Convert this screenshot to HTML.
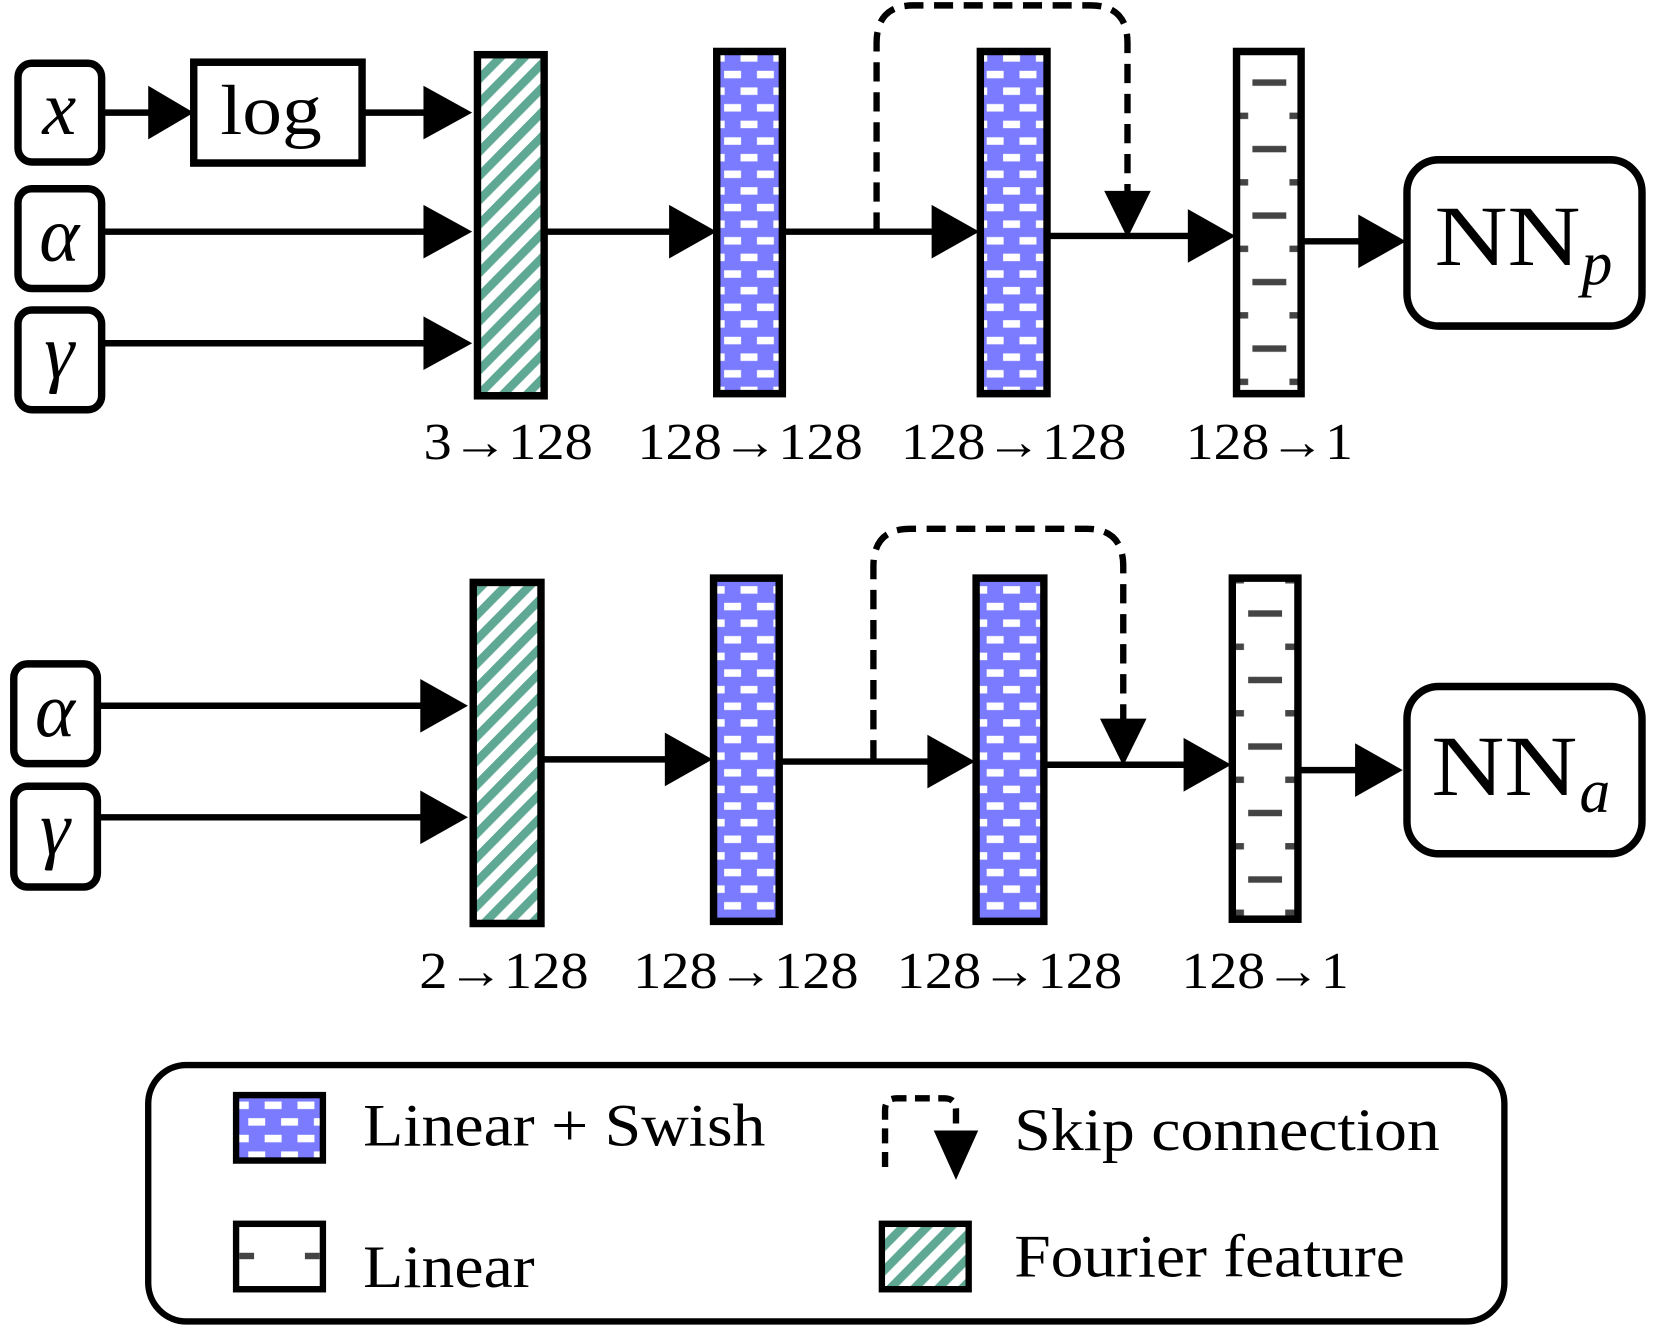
<!DOCTYPE html>
<html><head><meta charset="utf-8"><style>html,body{margin:0;padding:0;background:#fff}svg{display:block}</style></head>
<body>
<svg width="1660" height="1330" viewBox="0 0 1568 1240" preserveAspectRatio="none" xmlns="http://www.w3.org/2000/svg">
<defs>
<pattern id="blue" patternUnits="userSpaceOnUse" width="31" height="31">
<rect width="31" height="31" fill="#7b7bff"/>
<rect x="2" y="4" width="16" height="7" fill="#fff"/>
<rect x="17.5" y="19.5" width="16" height="7" fill="#fff"/>
<rect x="-13.5" y="19.5" width="16" height="7" fill="#fff"/>
</pattern>
<pattern id="green" patternUnits="userSpaceOnUse" width="16" height="16" patternTransform="rotate(-45)">
<rect width="16" height="16" fill="#fff"/>
<rect width="16" height="8" fill="#5fa994"/>
</pattern>
<pattern id="lin" patternUnits="userSpaceOnUse" width="63" height="62" x="1167" y="50">
<rect width="63" height="62" fill="#fff"/>
<rect x="16" y="24" width="32" height="6" fill="#444"/>
<rect x="0" y="55" width="12" height="6" fill="#444"/>
<rect x="51" y="55" width="12" height="6" fill="#444"/>
</pattern>
<pattern id="lin2" patternUnits="userSpaceOnUse" width="63" height="62" x="1163" y="545">
<rect width="63" height="62" fill="#fff"/>
<rect x="16" y="24" width="32" height="6" fill="#444"/>
<rect x="0" y="55" width="12" height="6" fill="#444"/>
<rect x="51" y="55" width="12" height="6" fill="#444"/>
</pattern>
</defs>
<g font-family="'Liberation Serif', serif" fill="#000">

<!-- TOP -->
<g stroke="#000" stroke-width="7" fill="#fff">
<rect x="17" y="59" width="79" height="92" rx="13"/>
<rect x="17" y="176" width="79" height="93" rx="13"/>
<rect x="17" y="289" width="79" height="93" rx="13"/>
<rect x="183" y="58" width="159" height="94"/>
</g>
<text x="56" y="125" font-size="72" font-style="italic" text-anchor="middle">x</text>
<text x="56" y="243" font-size="72" font-style="italic" text-anchor="middle">α</text>
<text x="56" y="352" font-size="72" font-style="italic" text-anchor="middle">γ</text>
<text x="208" y="125" font-size="66" textLength="96" lengthAdjust="spacingAndGlyphs">log</text>

<g stroke="#000" stroke-width="6">
<line x1="96" y1="105" x2="150" y2="105"/>
<line x1="342" y1="105" x2="410" y2="105"/>
<line x1="96" y1="216" x2="410" y2="216"/>
<line x1="96" y1="320" x2="410" y2="320"/>
<line x1="515" y1="216" x2="640" y2="216"/>
<line x1="740" y1="216" x2="890" y2="216"/>
<line x1="990" y1="220" x2="1130" y2="220"/>
<line x1="1230" y1="225" x2="1290" y2="225"/>
</g>
<g>
<polygon points="140,80 183,105 140,130"/>
<polygon points="400,80 446,105 400,130"/>
<polygon points="400,191 446,216 400,241"/>
<polygon points="400,295 446,320 400,345"/>
<polygon points="632,191 677,216 632,241"/>
<polygon points="880,191 925,216 880,241"/>
<polygon points="1122,195 1167,220 1122,245"/>
<polygon points="1283,200 1328,225 1283,250"/>
</g>
<path d="M828,216 V40 Q828,5 863,5 H1030 Q1065,5 1065,40 V185" fill="none" stroke="#000" stroke-width="6" stroke-dasharray="18,10"/>
<polygon points="1043,178 1087,178 1065,222"/>

<rect x="451" y="51" width="63" height="318" fill="url(#green)" stroke="#000" stroke-width="7"/>
<rect x="677" y="48" width="62" height="319" fill="url(#blue)" stroke="#000" stroke-width="7"/>
<rect x="926" y="48" width="63" height="319" fill="url(#blue)" stroke="#000" stroke-width="7"/>
<rect x="1168" y="48" width="61" height="319" fill="url(#lin)" stroke="#000" stroke-width="7"/>

<rect x="1329" y="149" width="222" height="155" rx="30" fill="#fff" stroke="#000" stroke-width="7"/>
<text x="1355" y="247" font-size="80" textLength="138" lengthAdjust="spacingAndGlyphs">NN</text>
<text x="1494" y="265" font-size="58" font-style="italic">p</text>

<g font-size="48">
<text x="400" y="428" textLength="160" lengthAdjust="spacingAndGlyphs">3→128</text>
<text x="602" y="428" textLength="213" lengthAdjust="spacingAndGlyphs">128→128</text>
<text x="851" y="428" textLength="213" lengthAdjust="spacingAndGlyphs">128→128</text>
<text x="1120" y="428" textLength="158" lengthAdjust="spacingAndGlyphs">128→1</text>
</g>

<!-- BOTTOM -->
<g stroke="#000" stroke-width="7" fill="#fff">
<rect x="13" y="619" width="79" height="93" rx="13"/>
<rect x="13" y="733" width="79" height="94" rx="13"/>
</g>
<text x="52" y="686" font-size="72" font-style="italic" text-anchor="middle">α</text>
<text x="52" y="796" font-size="72" font-style="italic" text-anchor="middle">γ</text>
<g stroke="#000" stroke-width="6">
<line x1="92" y1="658" x2="405" y2="658"/>
<line x1="92" y1="762" x2="405" y2="762"/>
<line x1="512" y1="708" x2="635" y2="708"/>
<line x1="737" y1="710" x2="885" y2="710"/>
<line x1="987" y1="713" x2="1125" y2="713"/>
<line x1="1227" y1="718" x2="1285" y2="718"/>
</g>
<g>
<polygon points="397,633 442,658 397,683"/>
<polygon points="397,737 442,762 397,787"/>
<polygon points="628,683 673,708 628,733"/>
<polygon points="876,685 921,710 876,735"/>
<polygon points="1118,688 1163,713 1118,738"/>
<polygon points="1280,693 1325,718 1280,743"/>
</g>
<path d="M825,708 V528 Q825,493 860,493 H1026 Q1061,493 1061,528 V678" fill="none" stroke="#000" stroke-width="6" stroke-dasharray="18,10"/>
<polygon points="1039,670 1083,670 1061,714"/>

<rect x="447" y="543" width="64" height="318" fill="url(#green)" stroke="#000" stroke-width="7"/>
<rect x="674" y="539" width="62" height="320" fill="url(#blue)" stroke="#000" stroke-width="7"/>
<rect x="922" y="539" width="64" height="320" fill="url(#blue)" stroke="#000" stroke-width="7"/>
<rect x="1164" y="539" width="62" height="318" fill="url(#lin2)" stroke="#000" stroke-width="7"/>

<rect x="1329" y="640" width="222" height="156" rx="30" fill="#fff" stroke="#000" stroke-width="7"/>
<text x="1352" y="741" font-size="80" textLength="138" lengthAdjust="spacingAndGlyphs">NN</text>
<text x="1492" y="757" font-size="58" font-style="italic">a</text>

<g font-size="48">
<text x="396" y="921" textLength="160" lengthAdjust="spacingAndGlyphs">2→128</text>
<text x="598" y="921" textLength="213" lengthAdjust="spacingAndGlyphs">128→128</text>
<text x="847" y="921" textLength="213" lengthAdjust="spacingAndGlyphs">128→128</text>
<text x="1116" y="921" textLength="158" lengthAdjust="spacingAndGlyphs">128→1</text>
</g>

<!-- LEGEND -->
<rect x="140" y="993" width="1281" height="239" rx="36" fill="#fff" stroke="#000" stroke-width="6"/>
<rect x="223" y="1021" width="82" height="61" fill="url(#blue)" stroke="#000" stroke-width="6"/>
<text x="343" y="1068" font-size="56" textLength="380" lengthAdjust="spacingAndGlyphs">Linear + Swish</text>
<rect x="223" y="1141" width="82" height="61" fill="#fff" stroke="#000" stroke-width="6"/>
<rect x="226" y="1168" width="14" height="6" fill="#444"/>
<rect x="288" y="1168" width="14" height="6" fill="#444"/>
<text x="343" y="1200" font-size="56" textLength="162" lengthAdjust="spacingAndGlyphs">Linear</text>
<path d="M836,1088 V1035 Q836,1024 847,1024 H892 Q903,1024 903,1035 V1060" fill="none" stroke="#000" stroke-width="6" stroke-dasharray="14,8"/>
<polygon points="882,1054 924,1054 903,1100"/>
<text x="958" y="1072" font-size="56" textLength="402" lengthAdjust="spacingAndGlyphs">Skip connection</text>
<rect x="833" y="1141" width="82" height="61" fill="url(#green)" stroke="#000" stroke-width="6"/>
<text x="958" y="1190" font-size="56" textLength="369" lengthAdjust="spacingAndGlyphs">Fourier feature</text>
</g>
</svg>
</body></html>
